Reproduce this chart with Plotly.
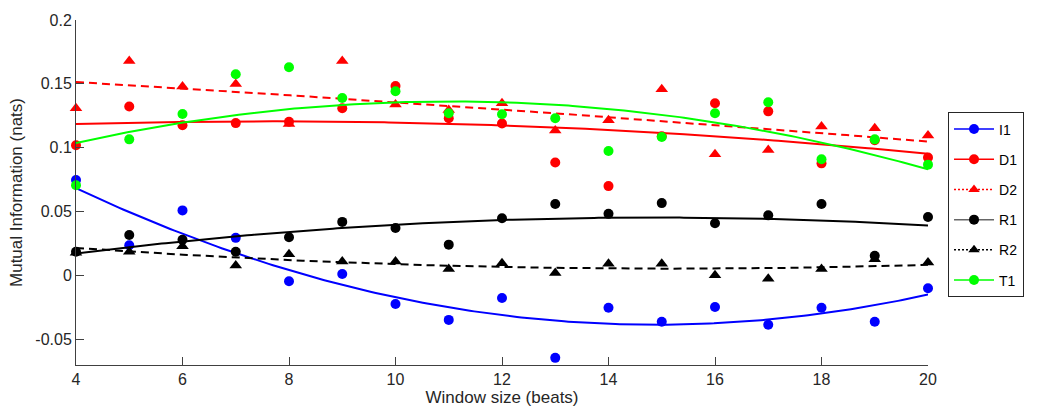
import numpy as np
import plotly.graph_objects as go

window = [4, 5, 6, 7, 8, 9, 10, 11, 12, 13, 14, 15, 16, 17, 18, 19, 20]

I1 = [0.0748, 0.0237, 0.0510, 0.0295, -0.0045, 0.0012, -0.0222, -0.0347, -0.0176, -0.0644,
      -0.0252, -0.0362, -0.0246, -0.0385, -0.0252, -0.0362, -0.0099]
D1 = [0.1020, 0.1323, 0.1176, 0.1193, 0.1204, 0.1310, 0.1483, 0.1231, 0.1190, 0.0885,
      0.0700, 0.1090, 0.1349, 0.1285, 0.0878, 0.1059, 0.0924]
D2 = [0.1310, 0.1680, 0.1480, 0.1500, 0.1186, 0.1680, 0.1338, 0.1295, 0.1349, 0.1135,
      0.1216, 0.1458, 0.0949, 0.0982, 0.1166, 0.1153, 0.1097]
R1 = [0.0186, 0.0318, 0.0280, 0.0186, 0.0300, 0.0420, 0.0372, 0.0242, 0.0448, 0.0560,
      0.0483, 0.0567, 0.0410, 0.0471, 0.0560, 0.0155, 0.0458]
R2 = [0.0178, 0.0186, 0.0229, 0.0079, 0.0166, 0.0110, 0.0110, 0.0051, 0.0097, 0.0020,
      0.0092, 0.0092, 0.0003, -0.0025, 0.0051, 0.0127, 0.0102]
T1 = [0.0707, 0.1066, 0.1265, 0.1575, 0.1630, 0.1390, 0.1443, 0.1270, 0.1262, 0.1231,
      0.0975, 0.1084, 0.1270, 0.1356, 0.0910, 0.1066, 0.0868]

ytick_vals = [-0.05, 0, 0.05, 0.1, 0.15, 0.2]
ytick_text = ["-0.05", "0", "0.05", "0.1", "0.15", "0.2"]
xtick_vals = [4, 6, 8, 10, 12, 14, 16, 18, 20]

series = [
    # name, data, color, symbol, plot dash, legend dash, legend line color
    ("I1", I1, "#0000FF", "circle", "solid", "solid", "#0000FF"),
    ("D1", D1, "#FF0000", "circle", "solid", "solid", "#FF0000"),
    ("D2", D2, "#FF0000", "triangle-up", "8px,5px", "2px,2px", "#FF0000"),
    ("R1", R1, "#000000", "circle", "solid", "solid", "#666666"),
    ("R2", R2, "#000000", "triangle-up", "8px,5px", "2px,2px", "#000000"),
    ("T1", T1, "#00FF00", "circle", "solid", "solid", "#00FF00"),
]

xs = np.array(window, dtype=float)
xf = np.linspace(4, 20, 200)

fig = go.Figure()
for name, vals, col, sym, dash, ldash, lcol in series:
    coef = np.polyfit(xs, np.array(vals), 2)
    fig.add_trace(go.Scatter(x=xf, y=np.polyval(coef, xf), mode="lines",
                             line=dict(color=col, width=2, dash=dash),
                             showlegend=False, hoverinfo="skip", cliponaxis=False))
    fig.add_trace(go.Scatter(x=window, y=vals, mode="markers",
                             marker=dict(color=col, symbol=sym, size=10 if sym == "circle" else 11,
                                         line=dict(width=0)),
                             showlegend=False, cliponaxis=False))
    fig.add_trace(go.Scatter(x=[None], y=[None], mode="lines+markers", name=name,
                             line=dict(color=lcol, width=1.5, dash=ldash),
                             marker=dict(color=col, symbol=sym, size=10),
                             legendgroup=name, showlegend=True))

axis_col = "#404040"
fig.update_layout(
    width=1037, height=414,
    margin=dict(l=76, r=109, t=14, b=46),
    plot_bgcolor="white", paper_bgcolor="white",
    font=dict(family="Liberation Sans, Arial, sans-serif", size=16, color="#262626"),
    showlegend=True,
    legend=dict(x=1.0235, y=0.732, xanchor="left", yanchor="top",
                bordercolor="#262626", borderwidth=1, bgcolor="white",
                font=dict(size=14, color="#000000"), tracegroupgap=9,
                itemwidth=40),
    xaxis=dict(range=[4, 20], tickvals=xtick_vals, ticks="inside", ticklen=8,
               tickcolor=axis_col, showline=True, linecolor=axis_col, linewidth=1,
               showgrid=False, zeroline=False, mirror=False,
               title=dict(text="Window size (beats)", font=dict(size=17), standoff=2),
               tickfont=dict(size=16)),
    yaxis=dict(range=[-0.07, 0.2], tickvals=ytick_vals, ticktext=ytick_text,
               ticks="inside", ticklen=8, tickcolor=axis_col, showline=True,
               linecolor=axis_col, linewidth=1, showgrid=False, zeroline=False,
               title=dict(text="Mutual Information (nats)", font=dict(size=17), standoff=8),
               tickfont=dict(size=16)),
)

fig.write_html("out.html")
